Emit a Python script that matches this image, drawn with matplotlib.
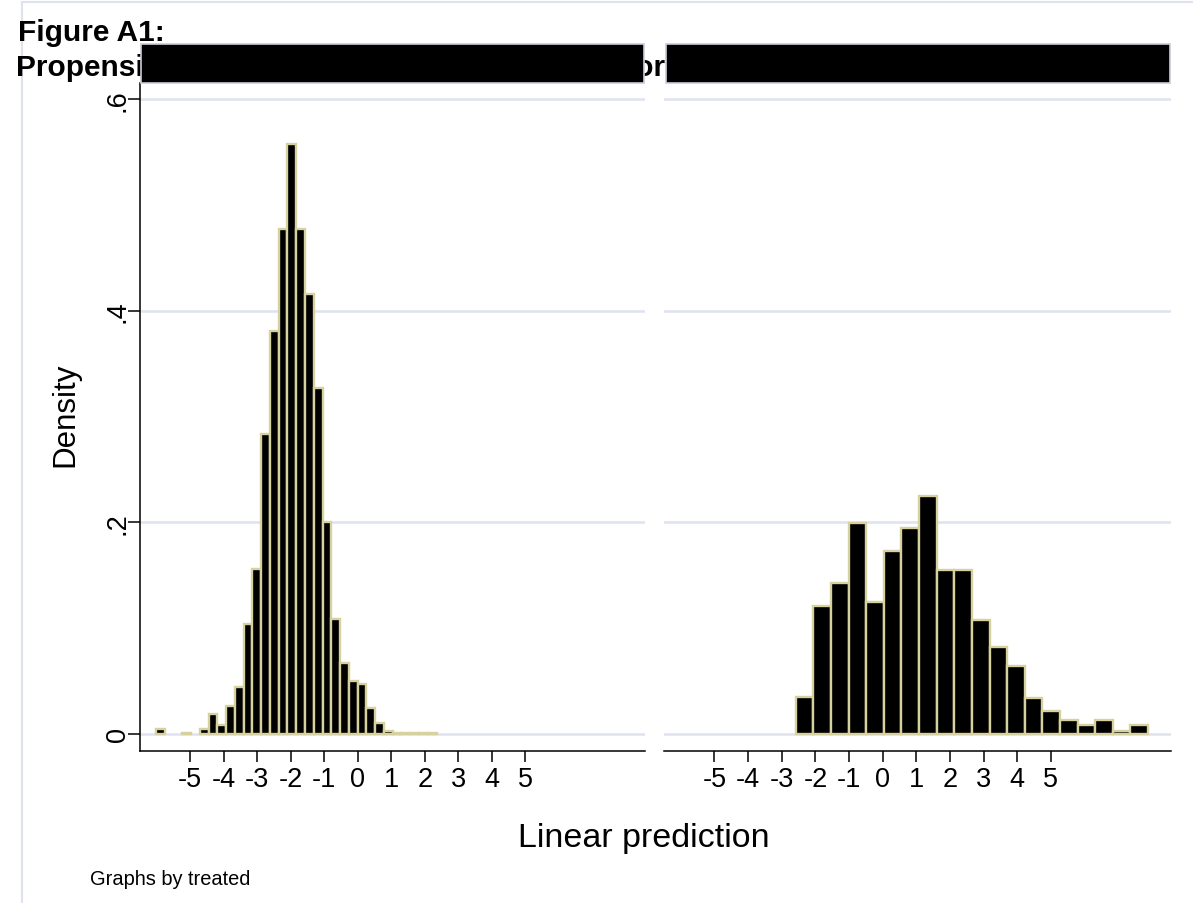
import matplotlib
matplotlib.use("Agg")
import matplotlib.pyplot as plt
from matplotlib.patches import Rectangle
from matplotlib.lines import Line2D
import numpy as np

plt.rcParams['font.family'] = ['Liberation Sans', 'DejaVu Sans']
plt.rcParams['axes.unicode_minus'] = False

x_ticks = [-5, -4, -3, -2, -1, 0, 1, 2, 3, 4, 5]
x_labels = ['-5', '-4', '-3', '-2', '-1', '0', '1', '2', '3', '4', '5']
y_ticks = [0, .2, .4, .6]
y_labels = ['0', '.2', '.4', '.6']

# treated == 0 (left panel), narrow bins
left_start = -6.023
left_width = 0.2616
left_density = [0.005, 0, 0, 0.001, 0, 0.005, 0.0186, 0.0085, 0.026, 0.044,
                0.104, 0.156, 0.284, 0.381, 0.478, 0.558, 0.478, 0.416, 0.327, 0.200,
                0.109, 0.0675, 0.050, 0.047, 0.0243, 0.0101, 0.003, 0.001, 0.001, 0.001,
                0.001, 0.001]

# treated == 1 (right panel), wide bins
right_start = -2.582
right_width = 0.5234
right_density = [0.0346, 0.1213, 0.1424, 0.1994, 0.125, 0.1732, 0.1946, 0.2249, 0.1553, 0.1553,
                 0.108, 0.0822, 0.0643, 0.0343, 0.0214, 0.0129, 0.0085, 0.0129, 0.0031, 0.0085]

W, H = 1193, 904
tan = '#d7d19f'
grid_col = '#dfe2ef'


def px(x, y):
    return x / W, 1 - y / H


def draw_hist(ax, start, width, dens):
    dens = np.array(dens, dtype=float)
    edges = start + width * np.arange(len(dens))
    keep = dens > 0
    ax.bar(edges[keep], dens[keep], width=width, align='edge', color='black',
           edgecolor=tan, linewidth=1.7, zorder=3)
    ax.set_xlim(-6.5, 8.57)
    ax.set_ylim(-0.0161, 0.6156)
    ax.set_yticks(y_ticks)
    ax.set_yticklabels(y_labels)
    ax.set_xticks(x_ticks)
    ax.set_xticklabels(x_labels)
    ax.yaxis.grid(True, color=grid_col, linewidth=1.8)
    ax.set_axisbelow(True)
    for s in ['top', 'right']:
        ax.spines[s].set_visible(False)
    ax.spines['bottom'].set_linewidth(1.1)
    ax.spines['left'].set_linewidth(1.1)
    ax.tick_params(axis='x', length=8, width=1.1, pad=3, labelsize=19.5)
    ax.tick_params(axis='y', length=8.6, width=1.1, pad=-2, labelsize=19.5, labelrotation=90)
    for lab in ax.get_yticklabels():
        lab.set_va('center')


def plot_and_save():
    fig = plt.figure(figsize=(W / 100, H / 100), dpi=100)
    ax1 = fig.add_axes([140 / W, 1 - 752 / H, 505 / W, (752 - 84) / H])
    ax2 = fig.add_axes([664 / W, 1 - 752 / H, 507 / W, (752 - 84) / H])
    draw_hist(ax1, left_start, left_width, left_density)
    draw_hist(ax2, right_start, right_width, right_density)
    ax2.spines['left'].set_visible(False)
    ax2.tick_params(axis='y', left=False, labelleft=False)

    # frame lines
    fig.add_artist(Line2D([22 / W, 1], [1 - 3 / H, 1 - 3 / H], color=grid_col, lw=1.5, zorder=0))
    fig.add_artist(Line2D([22 / W, 22 / W], [0, 1 - 3 / H], color=grid_col, lw=1.5, zorder=0))

    # title (second line partly covered by the black boxes)
    fig.text(*px(18, 41), "Figure A1:", fontsize=21.5, fontweight='bold', va='baseline', zorder=1)
    fig.text(*px(16, 76), "Propensity score distribution, linear predictor",
             fontsize=21.5, fontweight='bold', va='baseline', zorder=1)

    # strip boxes
    for x0, x1 in [(141, 644), (666, 1170)]:
        fig.add_artist(Rectangle(px(x0, 84), (x1 - x0) / W, 39 / H, transform=fig.transFigure,
                                 facecolor='black', edgecolor='#c9cbd9', lw=1.2, zorder=5))

    fig.text(*px(65, 415), "Density", fontsize=22.5, rotation=90, ha='center', va='center')
    fig.text(*px(644, 838), "Linear prediction", fontsize=24.5, ha='center', va='center')
    fig.text(*px(90, 880), "Graphs by treated", fontsize=14.4, ha='left', va='center')

    fig.savefig('out.png', dpi=100)


if __name__ == "__main__":
    plot_and_save()
